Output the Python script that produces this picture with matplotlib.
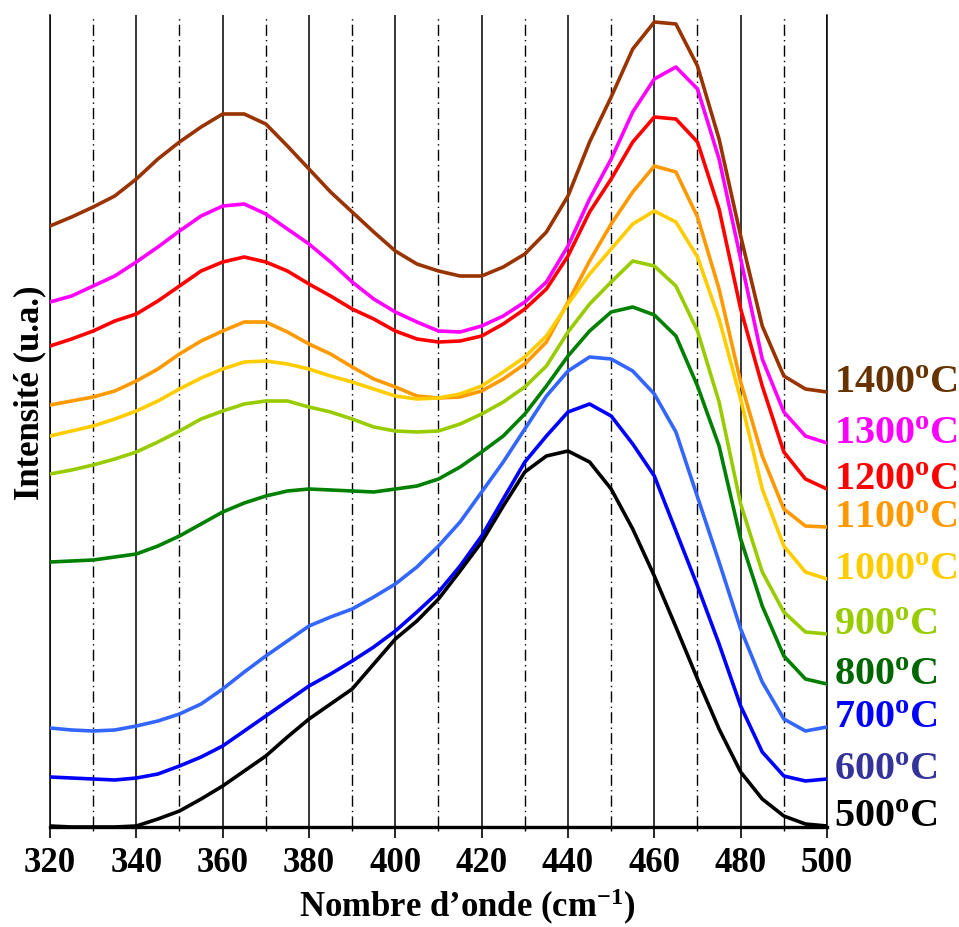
import numpy as np
import matplotlib
matplotlib.use("Agg")
import matplotlib.pyplot as plt

plt.rcParams['font.family'] = ['Liberation Serif', 'DejaVu Serif']
plt.rcParams['font.weight'] = 'bold'
plt.rcParams['mathtext.fontset'] = 'custom'
plt.rcParams['mathtext.rm'] = 'Liberation Serif:bold'
plt.rcParams['mathtext.bf'] = 'Liberation Serif:bold'
plt.rcParams['mathtext.it'] = 'Liberation Serif:bold:italic'

# Wavenumber grid (cm-1)
wavenumber = np.arange(320, 501, 5)

# Intensities (a.u.)
i_1400 = [601, 610, 620, 631, 648, 668, 685, 700, 713, 713, 703, 681, 658, 635, 615, 595, 576, 563, 556,
          551, 551, 560, 573, 595, 631, 685, 730, 778, 805, 803, 761, 688, 591, 501, 451, 438, 435]
i_1300 = [525, 531, 541, 551, 565, 580, 596, 611, 621, 623, 613, 598, 583, 565, 545, 528, 515, 505, 496,
          495, 501, 511, 525, 545, 581, 628, 668, 715, 748, 760, 738, 668, 568, 468, 415, 391, 384]
i_1200 = [481, 488, 496, 506, 513, 526, 541, 556, 565, 570, 565, 556, 543, 531, 518, 508, 496, 488, 485,
          486, 491, 503, 518, 538, 571, 615, 648, 685, 710, 708, 685, 618, 518, 441, 375, 348, 338]
i_1100 = [422, 426, 430, 436, 446, 458, 473, 486, 496, 505, 505, 495, 483, 473, 460, 448, 440, 431, 429,
          430, 436, 448, 463, 485, 525, 566, 603, 635, 661, 655, 610, 538, 445, 371, 318, 301, 300]
i_1000 = [391, 396, 401, 408, 416, 426, 438, 449, 458, 465, 466, 463, 458, 451, 445, 438, 431, 428, 429,
          433, 441, 455, 470, 491, 523, 553, 578, 603, 616, 605, 570, 508, 428, 338, 281, 255, 248]
i_900 = [353, 357, 362, 368, 375, 385, 396, 408, 416, 423, 426, 426, 420, 415, 408, 400, 396, 395, 396,
         403, 413, 425, 440, 461, 495, 523, 545, 566, 561, 541, 496, 425, 323, 255, 215, 195, 193]
i_800 = [265, 266, 267, 270, 273, 281, 291, 303, 315, 324, 331, 336, 338, 337, 336, 335, 338, 341, 348,
         360, 375, 391, 413, 441, 471, 496, 515, 520, 512, 491, 441, 381, 288, 221, 171, 148, 143]
i_700 = [99, 97, 96, 97, 101, 106, 113, 123, 138, 155, 171, 186, 201, 210, 218, 230, 243, 260, 281,
         305, 335, 365, 398, 431, 456, 470, 468, 456, 433, 395, 330, 265, 198, 145, 108, 96, 100]
i_600 = [50, 49, 48, 47, 49, 53, 61, 70, 81, 96, 111, 126, 141, 153, 166, 180, 196, 215, 235,
         261, 291, 328, 365, 391, 415, 423, 411, 383, 351, 296, 241, 183, 121, 75, 51, 46, 48]
i_500 = [1, 0, 0, 0, 1, 8, 16, 28, 41, 56, 71, 90, 108, 123, 138, 163, 188, 206, 228,
         256, 285, 321, 355, 371, 376, 365, 338, 298, 251, 200, 148, 98, 55, 28, 11, 3, 1]

temperatures = ['1400', '1300', '1200', '1100', '1000', '900', '800', '700', '600', '500']
series = [i_1400, i_1300, i_1200, i_1100, i_1000, i_900, i_800, i_700, i_600, i_500]
line_colors = ['#993300', '#FF00FF', '#FF0000', '#FF9900', '#FFCC00',
               '#99CC00', '#008000', '#3366FF', '#0000FF', '#000000']
label_colors = ['#663300', '#FF00FF', '#FF0000', '#FF9900', '#FFCC00',
                '#99CC00', '#006600', '#0000FF', '#333399', '#000000']

major_ticks = np.arange(320, 501, 20)
minor_ticks = np.arange(330, 500, 20)

fig = plt.figure(figsize=(9.59, 9.28), dpi=100)
ax = fig.add_axes([50 / 959, 1 - 828 / 928, 777 / 959, 812 / 928])

for t, y, lc, tc in zip(temperatures, series, line_colors, label_colors):
    ax.plot(wavenumber, y, color=lc, lw=2.6, solid_joinstyle='round', solid_capstyle='round', zorder=3)
    ax.annotate(t + r'$^{\mathrm{o}}$C', xy=(wavenumber[-1], y[-1]), xytext=(5, 6.5),
                textcoords='offset points', ha='left', va='center', color=tc,
                fontsize=29, fontweight='bold', annotation_clip=False)

ax.set_xlim(320, 500)
ax.set_ylim(0, 812)
ax.set_xticks(major_ticks)
ax.set_xticks(minor_ticks, minor=True)
ax.set_yticks([])
ax.grid(which='major', axis='x', color='black', lw=1.1, ls='-')
ax.grid(which='minor', axis='x', color='black', lw=1.0, ls=(0, (8, 3, 1, 3)))

ax.spines['top'].set_visible(False)
ax.spines['left'].set_linewidth(1.1)
ax.spines['right'].set_linewidth(1.1)
ax.spines['bottom'].set_linewidth(2.4)

ax.tick_params(axis='x', which='major', direction='out', length=8, width=1.2, pad=6, labelsize=25)
ax.tick_params(axis='x', which='minor', direction='out', length=3, width=1.0)
for lab in ax.get_xticklabels():
    lab.set_fontweight('bold')

ax.set_xlabel('Nombre d\u2019onde (cm$^{\\mathrm{-1}}$)', fontsize=25, fontweight='bold', va='baseline')
ax.xaxis.set_label_coords(0.537, -0.1095)
ax.set_ylabel('Intensité (u.a.)', fontsize=25, fontweight='bold')
ax.yaxis.set_label_coords(-0.005, 0.536)

fig.savefig('out.png', dpi=100)
